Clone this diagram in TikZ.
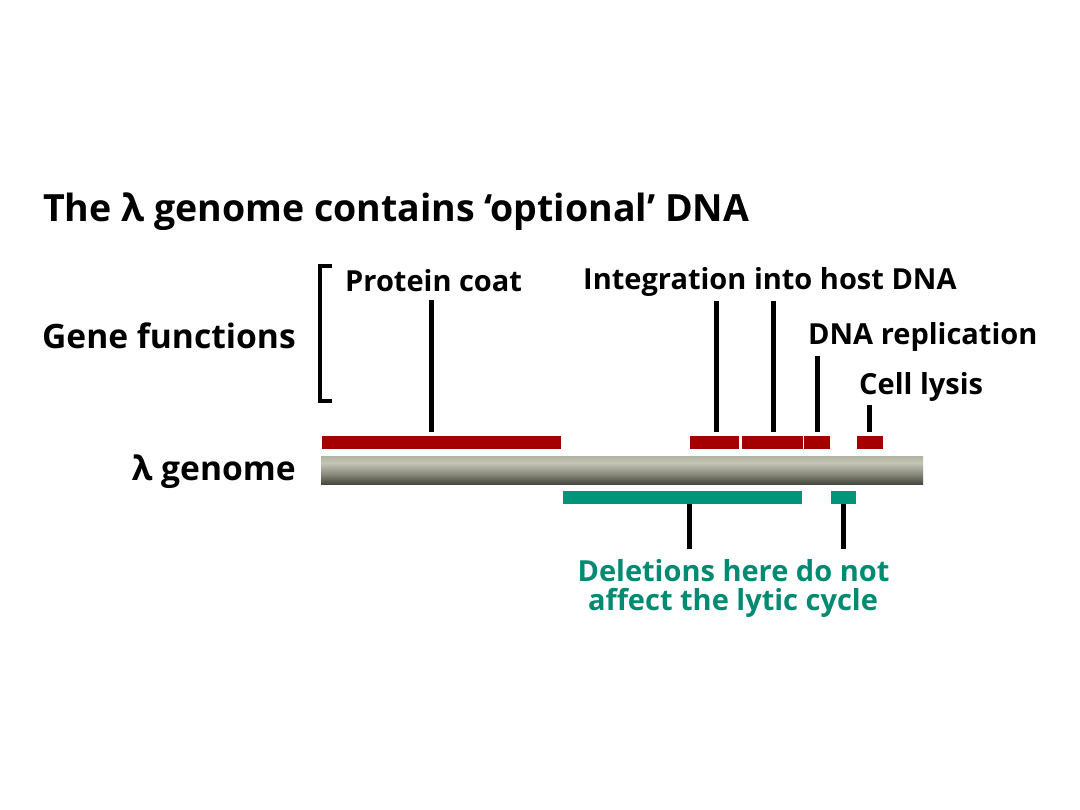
\documentclass[tikz,border=0pt]{standalone}
\usepackage{fontspec}
\setmainfont{Open Sans}
\newfontfamily\greekfont{Open Sans}
\usetikzlibrary{calc}
\definecolor{redbar}{HTML}{A50000}
\definecolor{tealbar}{HTML}{009479}
\definecolor{tealtext}{HTML}{008A72}
\definecolor{gdark}{HTML}{45463C}
\definecolor{gmid}{HTML}{85867A}
\definecolor{glight}{HTML}{C4C5B5}
\definecolor{gtop}{HTML}{B2B3A3}
\pgfdeclareverticalshading{genomeshade}{100bp}{color(0bp)=(gdark); color(25bp)=(gdark); color(42bp)=(gmid); color(63bp)=(glight); color(75bp)=(gtop); color(100bp)=(gtop)}
\newcommand{\lam}{{\greekfont\bfseries λ}}
\tikzset{
  lbl/.style={font=\bfseries\fontsize{29}{34}\selectfont, inner sep=0pt, anchor=base west},
  biglbl/.style={font=\bfseries\fontsize{33.6}{38}\selectfont, inner sep=0pt},
  ttl/.style={font=\bfseries\fontsize{37.5}{44}\selectfont, inner sep=0pt, anchor=base west},
  redseg/.style={fill=redbar, draw=none, inner sep=0pt, minimum height=12.5pt, anchor=north west},
  tealseg/.style={fill=tealbar, draw=none, inner sep=0pt, minimum height=13.5pt, anchor=north west},
  tick/.style={line width=5pt, black},
  bracket/.style={line width=4.5pt, black}
}
\begin{document}
\begin{tikzpicture}[x=1pt,y=-1pt]
\useasboundingbox[fill=white] (0,0) rectangle (1080,810);

% title
\node[ttl] (title) at (43,222) {The \lam\ genome contains ‘optional’ DNA};

% left labels
\node[biglbl, anchor=base east] (genefun) at (296,349) {Gene functions};
\node[biglbl, anchor=base east] (lgenome) at (296,480) {\lam\ genome};

% bracket
\draw[bracket] (332,266) -- (320,266) -- (320,401) -- (332,401);

% genome bar
\node[draw=none, inner sep=0pt, minimum width=602pt, minimum height=28pt, anchor=north west, shading=genomeshade] (genome) at (321,456) {};

% red gene bars
\node[redseg, minimum width=239pt] (coat) at (322,436) {};
\node[redseg, minimum width=49pt] (int1) at (690,436) {};
\node[redseg, minimum width=61pt] (int2) at (742,436) {};
\node[redseg, minimum width=26pt] (rep) at (804,436) {};
\node[redseg, minimum width=26pt] (lysis) at (857,436) {};

% teal deletion bars
\node[tealseg, minimum width=239pt] (del1) at (563,490.5) {};
\node[tealseg, minimum width=25pt] (del2) at (831,490.5) {};

% labels
\node[lbl] (coatlbl) at (345,292) {Protein coat};
\node[lbl] (intlbl) at (583,290) {Integration into host DNA};
\node[lbl] (replbl) at (808,345) {DNA replication};
\node[lbl] (lyslbl) at (859,395) {Cell lysis};
\node[lbl, anchor=base, text=tealtext] (dellbl) at (733.5,581) {Deletions here do not};
\node[lbl, anchor=base, text=tealtext] (dellbl2) at (733,610) {affect the lytic cycle};

% tick coordinates
\coordinate (tcoat) at (431,300);
\coordinate (tint1) at (716,301);
\coordinate (tint2) at (773,301);
\coordinate (trep) at (817,356);
\coordinate (tlys) at (869,405);
\coordinate (tdel1) at (689,549);
\coordinate (tdel2) at (843,549);

% ticks
\draw[tick] (tcoat) -- (tcoat |- 0,432);
\draw[tick] (tint1) -- (tint1 |- 0,432);
\draw[tick] (tint2) -- (tint2 |- 0,432);
\draw[tick] (trep) -- (trep |- 0,432);
\draw[tick] (tlys) -- (tlys |- 0,432);
\draw[tick] (tdel1) -- (tdel1 |- del1.south);
\draw[tick] (tdel2) -- (tdel2 |- del2.south);
\end{tikzpicture}
\end{document}
